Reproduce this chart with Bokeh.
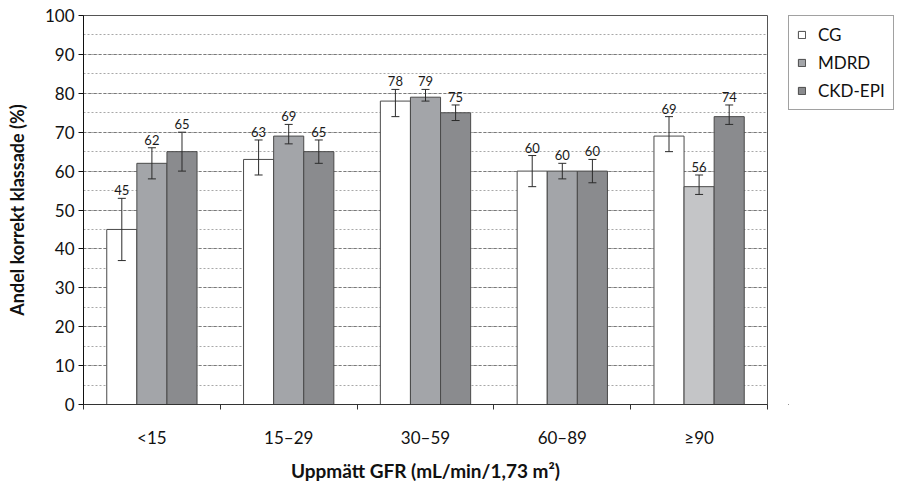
from bokeh.plotting import figure
from bokeh.layouts import row
from bokeh.models import (ColumnDataSource, Whisker, TeeHead, FixedTicker,
                          SingleIntervalTicker, Legend, LegendItem, Range1d)
from bokeh.transform import dodge
from bokeh.core.properties import value
from bokeh.embed import file_html
from bokeh.resources import INLINE

# GFR intervals and the share (%) of correctly classified patients per equation
categories = ["<15", "15–29", "30–59", "60–89", "≥90"]
series = ["CG", "MDRD", "CKD-EPI"]

cg = [45, 63, 78, 60, 69]
cg_low = [37, 59, 74, 56, 65]
cg_high = [53, 68, 81, 64, 74]

mdrd = [62, 69, 79, 60, 56]
mdrd_low = [58, 67, 78, 58, 54]
mdrd_high = [66, 72, 81, 62, 59]

ckd = [65, 65, 75, 60, 74]
ckd_low = [60, 62, 73, 57, 72]
ckd_high = [70, 68, 77, 63, 77]

FONT = "Lato"
BAR_W = 0.22
OFFSETS = [-BAR_W, 0.0, BAR_W]
SERIES_FILL = ["#ffffff", "#a3a5a9", "#8a8b8e"]
FILLS = [
    ["#ffffff"] * 5,
    ["#a3a5a9", "#a3a5a9", "#a3a5a9", "#a3a5a9", "#c4c5c7"],
    ["#8a8b8e"] * 5,
]
EDGE = "#4a4a4a"

p = figure(width=768, height=485, output_backend="svg", toolbar_location=None,
           x_range=Range1d(0, len(categories)), y_range=Range1d(0, 100),
           min_border_left=83, min_border_right=1, min_border_top=15,
           min_border_bottom=81)
p.background_fill_color = "white"
p.border_fill_color = "white"
p.outline_line_color = "#555555"
p.outline_line_width = 1

x_centers = [i + 0.5 for i in range(len(categories))]

for vals, lows, highs, off, fills in zip(
        [cg, mdrd, ckd], [cg_low, mdrd_low, ckd_low], [cg_high, mdrd_high, ckd_high],
        OFFSETS, FILLS):
    src = ColumnDataSource(dict(
        x=x_centers, top=vals, low=lows, high=highs, fill=fills,
        label=[str(v) for v in vals]))
    xs = dodge("x", off, range=p.x_range)
    p.vbar(x=xs, top="top", bottom=0, width=BAR_W, source=src,
           fill_color="fill", line_color=EDGE, line_width=1)
    w = Whisker(source=src, base=xs, lower="low", upper="high",
                dimension="height", line_color="#2b2b2b", line_width=1,
                lower_head=TeeHead(size=8, line_color="#2b2b2b", line_width=1),
                upper_head=TeeHead(size=8, line_color="#2b2b2b", line_width=1),
                level="overlay")
    p.add_layout(w)
    p.text(x=xs, y="high", text="label", source=src, text_align="center",
           text_baseline="alphabetic", y_offset=-8, text_font=value(FONT),
           text_font_size="13px", text_color="#1a1a1a")

# y axis: majors every 10, dotted grid every 5
p.yaxis.ticker = SingleIntervalTicker(interval=10, num_minor_ticks=2)
p.yaxis.axis_line_color = "#111111"
p.yaxis.major_tick_line_color = "#111111"
p.yaxis.major_tick_out = 5
p.yaxis.major_tick_in = 0
p.yaxis.minor_tick_line_color = None
p.yaxis.major_label_text_font = FONT
p.yaxis.major_label_text_font_size = "17px"
p.yaxis.major_label_text_color = "#111111"
p.yaxis.major_label_standoff = 4
p.yaxis.axis_label = "Andel korrekt klassade (%)"
p.yaxis.axis_label_text_font = FONT
p.yaxis.axis_label_text_font_style = "bold"
p.yaxis.axis_label_text_font_size = "18px"
p.yaxis.axis_label_text_color = "#111111"
p.yaxis.axis_label_standoff = 14

p.ygrid.grid_line_color = "#7a7a7a"
p.ygrid.grid_line_dash = "3 2"
p.ygrid.grid_line_width = 1
p.ygrid.minor_grid_line_color = "#a8a8a8"
p.ygrid.minor_grid_line_dash = "2 2"
p.xgrid.grid_line_color = None

# x axis: labels at group centres, ticks between groups
p.xaxis.ticker = FixedTicker(ticks=x_centers,
                             minor_ticks=list(range(len(categories) + 1)))
p.xaxis.major_label_overrides = {c: lab for c, lab in zip(x_centers, categories)}
p.xaxis.major_tick_line_color = None
p.xaxis.major_tick_out = 0
p.xaxis.major_tick_in = 0
p.xaxis.minor_tick_line_color = "#333333"
p.xaxis.minor_tick_out = 5
p.xaxis.minor_tick_in = 0
p.xaxis.axis_line_color = "#333333"
p.xaxis.major_label_text_font = FONT
p.xaxis.major_label_text_font_size = "17px"
p.xaxis.major_label_text_color = "#111111"
p.xaxis.major_label_standoff = 17
p.xaxis.axis_label = "Uppmätt GFR (mL/min/1,73 m²)"
p.xaxis.axis_label_text_font = FONT
p.xaxis.axis_label_text_font_style = "bold"
p.xaxis.axis_label_text_font_size = "19px"
p.xaxis.axis_label_text_color = "#111111"
p.xaxis.axis_label_standoff = 8

# legend panel to the right of the chart; swatch renderers sit outside its view
leg_fig = figure(width=129, height=485, output_backend="svg", toolbar_location=None,
                 x_range=Range1d(0, 1), y_range=Range1d(0, 1),
                 min_border_left=20, min_border_right=0, min_border_top=0,
                 min_border_bottom=0, outline_line_color=None)
leg_fig.axis.visible = False
leg_fig.grid.visible = False
leg_fig.border_fill_color = "white"
leg_fig.background_fill_color = "white"

swatches = [leg_fig.vbar(x=[-50], top=[-50], bottom=-60, width=1,
                         fill_color=c, line_color=EDGE)
            for c in SERIES_FILL]

legend = Legend(
    items=[LegendItem(label=s, renderers=[r]) for s, r in zip(series, swatches)],
    location="top_left", orientation="vertical",
    glyph_width=9, glyph_height=9, label_height=20, label_standoff=12,
    spacing=7, padding=8, margin=0,
    label_text_font=FONT, label_text_font_size="17px", label_text_color="#111111",
    border_line_color="#444444", border_line_width=1,
    background_fill_color="white", background_fill_alpha=1)
leg_fig.add_layout(legend)

layout = row(p, leg_fig, spacing=0)
open("out.html", "w").write(file_html(layout, INLINE))
